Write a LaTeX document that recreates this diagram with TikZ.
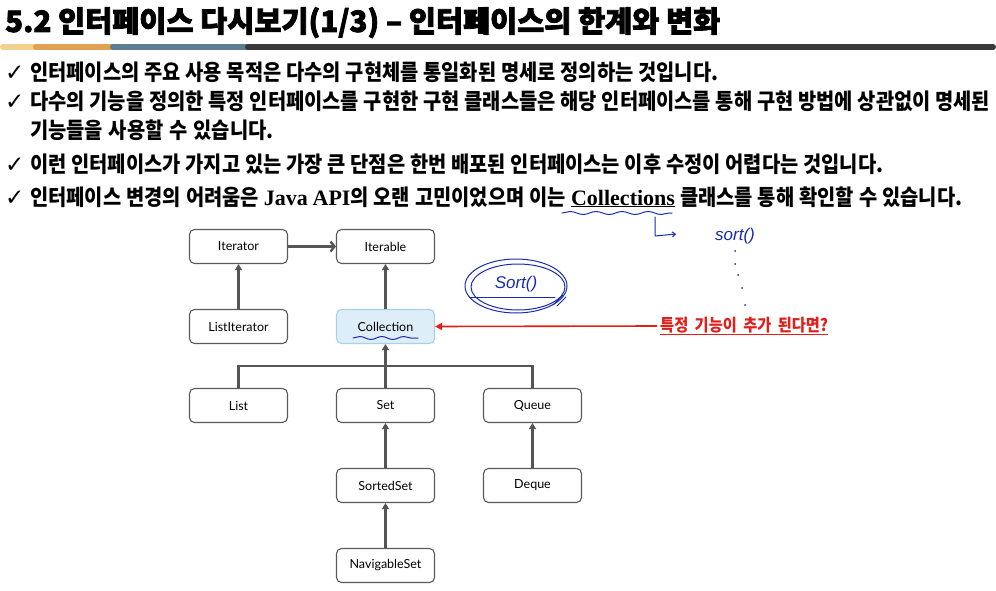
\documentclass[tikz,border=0pt]{standalone}
\usepackage{fontspec}
\usetikzlibrary{arrows.meta,decorations.pathmorphing}
\newfontfamily\kr[FakeStretch=0.9,WordSpace=1.3]{Noto Sans CJK KR}
\newfontfamily\krtitle{Noto Sans CJK KR}[BoldFeatures={FakeBold=2.6}]
\newfontfamily\latinb{Liberation Serif}
\newfontfamily\djv{DejaVu Sans}
\newfontfamily\diag{Lato}
\newfontfamily\hand{Liberation Sans}
\definecolor{barA}{HTML}{F4D08F}
\definecolor{barB}{HTML}{E1A152}
\definecolor{barC}{HTML}{5C7E93}
\definecolor{barD}{HTML}{3A3A3A}
\definecolor{linegray}{HTML}{555555}
\definecolor{boxline}{HTML}{5A5A5A}
\definecolor{collfill}{HTML}{DDEEF8}
\definecolor{colldraw}{HTML}{A9D1EA}
\definecolor{redc}{HTML}{E0201B}
\definecolor{penblue}{HTML}{1A2BB0}
\begin{document}
\begin{tikzpicture}[x=1pt,y=-1pt,
  box/.style={draw=boxline, line width=1.1pt, rounded corners=5pt, minimum width=98pt, minimum height=34pt, inner sep=0pt, font=\diag\fontsize{12.5}{14}\selectfont, fill=white},
  conn/.style={draw=linegray, line width=2.3pt},
  arr/.style={conn, -{Triangle[length=6pt,width=7pt]}},
  arrh/.style={conn, -{Straight Barb[length=4pt,width=10pt]}},
  bullet/.style={anchor=base west, inner sep=0pt, font=\kr\bfseries\fontsize{22}{25}\selectfont},
  chk/.style={anchor=base west, inner sep=0pt, font=\djv\bfseries\fontsize{23}{25}\selectfont},
  pen/.style={draw=penblue, line width=1pt, line cap=round, line join=round}
]
\useasboundingbox (0,0) rectangle (996,591);
\fill[white] (0,0) rectangle (996,591);

% title
\node[anchor=base west, inner sep=0pt] (title) at (5,32)
  {\resizebox{715pt}{!}{\krtitle\bfseries\fontsize{30}{34}\selectfont 5.2 인터페이스 다시보기(1/3) – 인터페이스의 한계와 변화}};
\draw[barA, line width=6pt, line cap=round] (3,47) -- (38,47);
\draw[barB, line width=6pt, line cap=round] (36,47) -- (115,47);
\draw[barC, line width=6pt, line cap=round] (113,47) -- (250,47);
\draw[barD, line width=6pt, line cap=round] (248,47) -- (993,47);

% bullets
\node[chk] (c1) at (5,81) {✓};
\node[bullet] (b1) at (30,81) {\makebox[688pt][s]{인터페이스의 주요 사용 목적은 다수의 구현체를 통일화된 명세로 정의하는 것입니다.}};
\node[chk] (c2) at (5,110) {✓};
\node[bullet] (b2) at (30,110) {\makebox[960pt][s]{다수의 기능을 정의한 특정 인터페이스를 구현한 구현 클래스들은 해당 인터페이스를 통해 구현 방법에 상관없이 명세된}};
\node[bullet] (b3) at (30,139) {기능들을 사용할 수 있습니다.};
\node[chk] (c4) at (5,172) {✓};
\node[bullet] (b4) at (30,172) {\makebox[853pt][s]{이런 인터페이스가 가지고 있는 가장 큰 단점은 한번 배포된 인터페이스는 이후 수정이 어렵다는 것입니다.}};
\node[chk] (c5) at (5,205) {✓};
\node[bullet] (b5) at (30,205) {\makebox[932pt][s]{인터페이스 변경의 어려움은 {\latinb\bfseries\fontsize{22}{24}\selectfont Java API}의 오랜 고민이었으며 이는 \underline{\latinb\bfseries\fontsize{22}{24}\selectfont Collections} 클래스를 통해 확인할 수 있습니다.}};

% diagram nodes
\node[box] (iterator) at (238.5,246.5) {Iterator};
\node[box] (iterable) at (385.5,246.5) {Iterable};
\node[box] (listit) at (238.5,326.5) {ListIterator};
\node[box, draw=colldraw, fill=collfill] (coll) at (385.5,326.5) {Collection};
\node[box] (list) at (238.5,405.5) {List};
\node[box] (set) at (385.5,405.5) {Set};
\node[box] (queue) at (532.5,405.5) {Queue};
\node[box] (sorted) at (385.5,485.5) {SortedSet};
\node[box] (deque) at (532.5,485.5) {Deque};
\node[box] (nav) at (385.5,565.5) {NavigableSet};

% connectors
\draw[arrh] (iterator.east) -- (iterable.west);
\draw[arr] (listit.north) -- (iterator.south);
\draw[arr] (coll.north) -- (iterable.south);
\coordinate (bus) at (385.5,366);
\draw[conn] (list.north) |- (bus) -| (queue.north);
\draw[arr] (set.north) -- (coll.south);
\draw[arr] (sorted.north) -- (set.south);
\draw[arr] (deque.north) -- (queue.south);
\draw[arr] (nav.north) -- (sorted.south);

% red question
\node[anchor=west, inner sep=0pt, text=redc, font=\kr\bfseries\fontsize{17}{19}\selectfont] (q) at (660,326)
  {\underline{\makebox[168pt][s]{특정 기능이 추가 된다면?}}};
\draw[redc, line width=1.6pt, -{Triangle[length=7pt,width=7pt]}] ([xshift=-3pt]q.west) -- (coll.east);

% handwritten annotations
\draw[pen, decorate, decoration={snake, amplitude=1.5pt, segment length=22pt}] (353,338) -- (418,338);
\draw[pen, decorate, decoration={snake, amplitude=1.5pt, segment length=26pt}] (562,213) -- (672,213);
\node[text=penblue, inner sep=0pt, font=\hand\itshape\fontsize{17}{19}\selectfont] (srt) at (516,284) {Sort()};
\draw[pen] (516,286) ellipse (51 and 27);
\draw[pen] (518,287) ellipse (47 and 23);
\draw[pen] (470,297) -- (555,297);
\draw[pen] (553,305) -- (563,295) (557,306) -- (566,297);
\coordinate (hookA) at (655,217);
\coordinate (hookB) at (655,236);
\coordinate (hookC) at (676,234);
\draw[pen, -{Straight Barb[length=3pt,width=5pt]}] (hookA) -- (hookB) -- (hookC);
\node[text=penblue, inner sep=0pt, font=\hand\itshape\fontsize{17}{19}\selectfont] (srt2) at (735,236) {sort()};
\foreach \p in {(735,251),(735,264),(738,275),(742,288),(745,305)}
  \fill[penblue] \p circle (1pt);
\end{tikzpicture}
\end{document}
